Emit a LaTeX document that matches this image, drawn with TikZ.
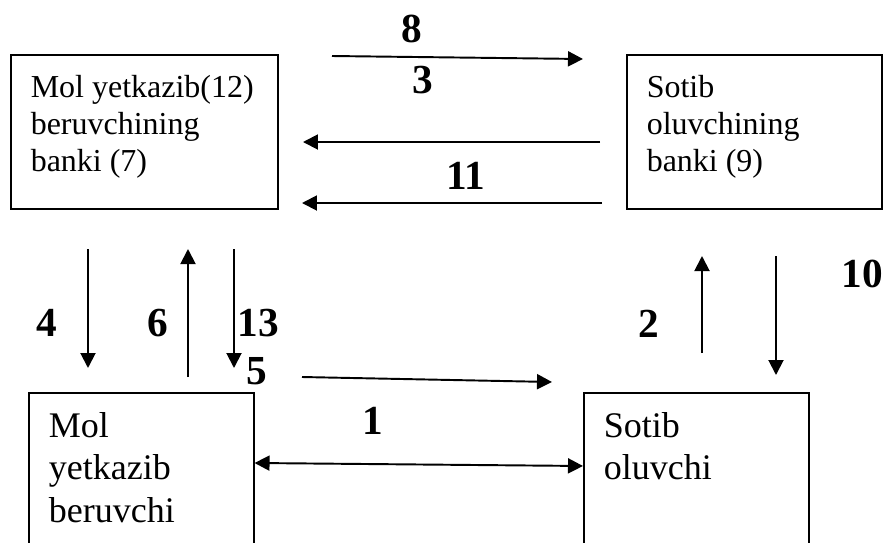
\documentclass[tikz,border=0pt]{standalone}
\usepackage{fontspec}
\setmainfont{Liberation Serif}
\usepackage{tikz}
\usetikzlibrary{arrows.meta}

\begin{document}
\begin{tikzpicture}[x=0.02cm, y=-0.02cm,
    box/.style={draw, line width=0.9pt, rectangle, anchor=north west, inner xsep=0.4cm, align=left},
    topbox/.style={box, inner ysep=0.42cm, font=\fontsize{18.2}{21}\selectfont},
    lowbox/.style={box, inner ysep=0.4cm, font=\fontsize{20.5}{24}\selectfont},
    flow/.style={line width=1.1pt, -{Triangle[length=0.3cm, width=0.3cm]}},
    twoway/.style={line width=1.1pt, {Triangle[length=0.3cm, width=0.3cm]}-{Triangle[length=0.3cm, width=0.3cm]}},
    num/.style={font=\fontsize{23.5}{23.5}\selectfont\bfseries, inner sep=0pt}]
\useasboundingbox (0,0) rectangle (887,542);

% banks
\node[topbox] (bank_mol) at (10,54)
   {\parbox[t][2.24cm][t]{4.54cm}{\raggedright Mol~yetkazib(12)\\beruvchining\\banki (7)}};
\node[topbox] (bank_sotib) at (626,54)
   {\parbox[t][2.24cm][t]{4.3cm}{\raggedright Sotib\\oluvchining\\banki (9)}};
% parties
\node[lowbox] (mol) at (28,392)
   {\parbox[t][3.2cm][t]{3.7cm}{\raggedright Mol\\yetkazib\\beruvchi}};
\node[lowbox] (sotib) at (583,392)
   {\parbox[t][3.2cm][t]{3.7cm}{\raggedright Sotib\\oluvchi}};

\path (332,56) coordinate (f8_s)   (583,59) coordinate (f8_e)
      (600,142) coordinate (f3_s)  (303,142) coordinate (f3_e)
      (602,203) coordinate (f11_s) (302,203) coordinate (f11_e)
      (88,249) coordinate (f4_s)   (88,368) coordinate (f4_e)
      (188,377) coordinate (f6_s)  (188,249) coordinate (f6_e)
      (234,249) coordinate (f13_s) (234,368) coordinate (f13_e)
      (302,377) coordinate (f5_s)  (552,382) coordinate (f5_e)
      (702,353) coordinate (f2_s)  (702,256) coordinate (f2_e)
      (776,256) coordinate (f10_s) (776,375) coordinate (f10_e);

\draw[flow] (f8_s) -- (f8_e);
\draw[flow] (f3_s) -- (f3_e);
\draw[flow] (f11_s) -- (f11_e);
\draw[flow] (f4_s) -- (f4_e);
\draw[flow] (f6_s) -- (f6_e);
\draw[flow] (f13_s) -- (f13_e);
\draw[flow] (f5_s) -- (f5_e);
\draw[flow] (f2_s) -- (f2_e);
\draw[flow] (f10_s) -- (f10_e);
\draw[twoway] ([yshift=-1.42cm]mol.north east) -- ([yshift=-1.48cm]sotib.north west);

\node[num] (n8) at (412,29) {8};
\node[num] (n3) at (423,80) {3};
\node[num] (n11) at (466,176) {11};
\node[num] (n4) at (47,323) {4};
\node[num] (n6) at (158,323) {6};
\node[num] (n13) at (258,323) {13};
\node[num] (n5) at (257,371) {5};
\node[num] (n1) at (373,421) {1};
\node[num] (n2) at (649,324) {2};
\node[num] (n10) at (862,274) {10};
\end{tikzpicture}
\end{document}
